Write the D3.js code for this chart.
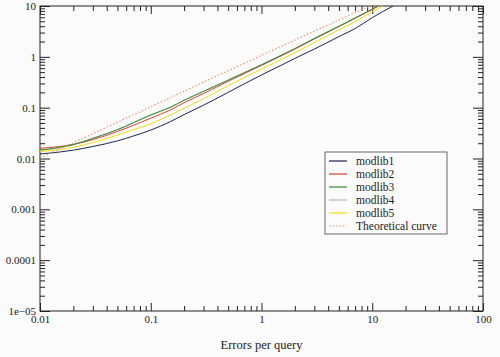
<!DOCTYPE html>
<html><head><meta charset="utf-8">
<script src="https://cdn.jsdelivr.net/npm/d3@7"></script>
<style>
html,body{margin:0;padding:0;background:#fbfbfb;}
svg text{font-family:"Liberation Serif","Times New Roman",Tinos,"DejaVu Serif","Noto Serif",serif !important;}
</style></head><body>
<svg id="c" width="500" height="357"></svg>
<script>
const xTicks = [0.01, 0.1, 1, 10, 100];
const xTickLabels = ["0.01", "0.1", "1", "10", "100"];
const yTicks = [1e-5, 1e-4, 1e-3, 1e-2, 0.1, 1, 10];
const yTickLabels = ["1e\u221205", "0.0001", "0.001", "0.01", "0.1", "1", "10"];
const xTitle = "Errors per query";
const seriesNames = ["modlib1", "modlib2", "modlib3", "modlib4", "modlib5", "Theoretical curve"];
const seriesColors = ["#1c2650", "#e0402c", "#2f8f2f", "#b8b4d8", "#f2dc10", "#e59a72"];

const modlib1 = [[0.01,0.0123],[0.015,0.0134],[0.02,0.0146],[0.03,0.0172],[0.05,0.0222],[0.07,0.0278],[0.1,0.0362],[0.15,0.053],[0.2,0.073],[0.3,0.112],[0.5,0.2],[0.7,0.295],[1,0.44],[1.5,0.68],[2,0.93],[3,1.42],[5,2.5],[7,3.6],[10,5.9],[15.4,10]];
const modlib2 = [[0.01,0.0159],[0.015,0.0172],[0.02,0.019],[0.03,0.0235],[0.05,0.034],[0.07,0.045],[0.1,0.062],[0.15,0.09],[0.2,0.125],[0.3,0.19],[0.5,0.33],[0.7,0.47],[1,0.68],[1.5,1.04],[2,1.42],[3,2.25],[5,3.95],[7,5.75],[10,8.6],[11.4,10]];
const modlib3 = [[0.01,0.0147],[0.015,0.0165],[0.02,0.0188],[0.03,0.025],[0.05,0.037],[0.07,0.051],[0.1,0.072],[0.15,0.102],[0.2,0.14],[0.3,0.21],[0.5,0.35],[0.7,0.49],[1,0.7],[1.5,1.07],[2,1.45],[3,2.3],[5,4.0],[7,5.8],[10,8.7],[11.3,10]];
const modlib4 = [[0.01,0.0145],[0.015,0.0163],[0.02,0.0186],[0.03,0.0248],[0.05,0.0365],[0.07,0.05],[0.1,0.071],[0.15,0.1],[0.2,0.138],[0.3,0.208],[0.5,0.345],[0.7,0.485],[1,0.69],[1.5,1.06],[2,1.44],[3,2.28],[5,3.97],[7,5.77],[10,8.65],[11.35,10]];
const modlib5 = [[0.01,0.0137],[0.015,0.015],[0.02,0.0166],[0.03,0.0205],[0.05,0.029],[0.07,0.037],[0.1,0.048],[0.15,0.072],[0.2,0.097],[0.3,0.15],[0.5,0.27],[0.7,0.39],[1,0.57],[1.5,0.88],[2,1.2],[3,1.9],[5,3.4],[7,4.9],[10,7.7],[12.5,10]];
const theoretical = [[0.01,0.0102],[0.1,0.104],[1,1.07],[9.5,10]];
const seriesData = [modlib1, modlib2, modlib3, modlib4, modlib5, theoretical];

const svg = d3.select("#c");
const L = 40, R = 483, T = 6, B = 311;
const x = d3.scaleLog().domain([0.01, 100]).range([L, R]);
const y = d3.scaleLog().domain([1e-5, 10]).range([B, T]);

const minorX = [], minorY = [];
for (let e = -2; e < 2; e++) for (let m = 2; m < 10; m++) minorX.push(m * Math.pow(10, e));
for (let e = -5; e < 1; e++) for (let m = 2; m < 10; m++) minorY.push(m * Math.pow(10, e));

const tickCol = "#222";
function axis(gen, tr, vals, size, labels) {
  const g = svg.append("g").attr("transform", tr)
    .call(gen.tickValues(vals).tickSize(size).tickFormat((d,i)=>labels? labels[i] : ""));
  g.attr("font-family", null);
  g.select(".domain").remove();
  g.selectAll("line").attr("stroke", tickCol).attr("stroke-width", 1);
  g.selectAll("text").attr("font-size", 11).attr("fill", "#222");
  return g;
}
axis(d3.axisTop(x), `translate(0,${B})`, minorX, 5);
const gb = axis(d3.axisTop(x), `translate(0,${B})`, xTicks, 8, xTickLabels);
gb.selectAll("text").attr("y", 12).attr("dy", "0");
axis(d3.axisBottom(x), `translate(0,${T})`, minorX, 5);
axis(d3.axisBottom(x), `translate(0,${T})`, xTicks, 8);
axis(d3.axisRight(y), `translate(${L},0)`, minorY, 5);
const gl = axis(d3.axisRight(y), `translate(${L},0)`, yTicks, 10, yTickLabels);
gl.selectAll("text").attr("x", -4).attr("text-anchor", "end");
axis(d3.axisLeft(y), `translate(${R},0)`, minorY, 5);
axis(d3.axisLeft(y), `translate(${R},0)`, yTicks, 10);

svg.append("rect").attr("x", L).attr("y", T).attr("width", R - L).attr("height", B - T)
  .attr("fill", "none").attr("stroke", tickCol).attr("stroke-width", 1);

svg.append("clipPath").attr("id", "clip").append("rect")
  .attr("x", L).attr("y", T).attr("width", R - L).attr("height", B - T);

const line = d3.line().x(d => x(d[0])).y(d => y(d[1])).curve(d3.curveMonotoneX);
const order = [3, 0, 4, 1, 2, 5];
const plot = svg.append("g").attr("clip-path", "url(#clip)");
order.forEach(i => {
  plot.append("path").datum(seriesData[i])
    .attr("d", line).attr("fill", "none")
    .attr("stroke", seriesColors[i])
    .attr("stroke-width", i === 5 ? 1.2 : 1)
    .attr("stroke-dasharray", i === 5 ? "1.5,2" : null);
});

svg.append("text").attr("x", x(1)).attr("y", 349).attr("text-anchor", "middle")
  .attr("font-size", 12.5).attr("fill", "#222").text(xTitle);

const lg = svg.append("g");
lg.append("rect").attr("x", 325).attr("y", 152).attr("width", 122).attr("height", 82)
  .attr("fill", "#fbfbfb").attr("stroke", "#444").attr("stroke-width", 0.8);
seriesNames.forEach((n, i) => {
  const yy = 161 + i * 13;
  lg.append("line").attr("x1", 329).attr("x2", 347).attr("y1", yy).attr("y2", yy)
    .attr("stroke", seriesColors[i]).attr("stroke-width", 1.2)
    .attr("stroke-dasharray", i === 5 ? "1.5,2" : null);
  lg.append("text").attr("x", 356).attr("y", yy + 4).attr("font-size", 11.5).attr("fill", "#222").text(n);
});
</script>
</body></html>
